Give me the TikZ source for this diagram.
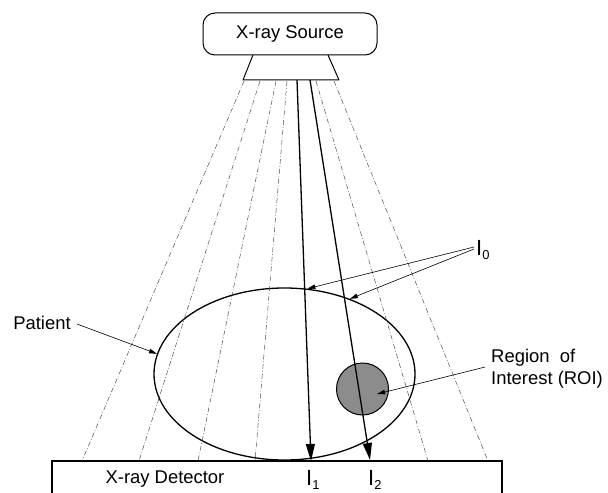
\documentclass[tikz,border=0pt]{standalone}
\usepackage{fontspec}
\setmainfont{Liberation Sans}
\usetikzlibrary{arrows.meta,shapes.geometric}
\tikzset{
  lbl/.style={font=\fontsize{18.5}{22}\selectfont, inner sep=0pt},
  ilbl/.style={font=\fontsize{22}{22}\selectfont, inner sep=0pt, anchor=base west},
  ray/.style={line width=0.45bp, black!75, dash pattern=on 5bp off 2bp on 0.8bp off 2bp},
  beam/.style={line width=1.3bp, -{Triangle[length=17bp,width=9bp]}},
  pointer/.style={line width=0.6bp, -{Triangle[length=8bp,width=4.5bp]}},
}
\newcommand{\sub}[1]{\raisebox{-0.4ex}{\fontsize{13}{13}\selectfont #1}}
\begin{document}
\begin{tikzpicture}[x=1bp,y=-1bp]
\useasboundingbox (0,0) rectangle (608,493);
% source
\node[lbl, draw, line width=1bp, rounded corners=12bp, minimum width=174bp, minimum height=42bp] (src) at (290,34) {X-ray Source};
\coordinate (tTL) at (253,55);
\coordinate (tTR) at (328,55);
\coordinate (tBL) at (243,80);
\coordinate (tBR) at (339,80);
\draw[line width=1bp, line join=round] (tTL) -- (tBL) -- (tBR) -- (tTR);
% detector
\coordinate (dBL) at (52,495);
\coordinate (dTL) at (52,461);
\coordinate (dTR) at (502,461);
\coordinate (dBR) at (502,495);
\draw[line width=1.2bp] (dBL) -- (dTL) -- (dTR) -- (dBR);
\node[lbl] (det) at (165,479) {X-ray Detector};
% ROI
\node[circle, draw, line width=1bp, fill=black!45, minimum size=52bp, inner sep=0pt] (roi) at (362.5,389) {};
% patient
\node[ellipse, draw, line width=1.3bp, minimum width=261bp, minimum height=172bp, inner sep=0pt] (patient) at (284.5,374) {};
% rays
\foreach \a/\b [count=\i] in {244/82, 260/139, 276/198, 287/255, 316/428, 334/488}{
  \coordinate (ro\i) at (\a,81);
  \coordinate (re\i) at (\b,461);
  \draw[ray] (ro\i) -- (re\i);
}
\coordinate (b1s) at (297,80);
\coordinate (b1e) at (311,461);
\coordinate (b2s) at (310,80);
\coordinate (b2e) at (370,460);
\draw[beam] (b1s) -- (b1e);
\draw[beam] (b2s) -- (b2e);
% labels
\node[ilbl] (I0) at (476,255) {I\sub{0}};
\node[ilbl] (I1) at (306,485) {I\sub{1}};
\node[ilbl] (I2) at (368,485) {I\sub{2}};
\node[lbl] (pat) at (42,323) {Patient};
\node[lbl, align=left, anchor=west] (reg) at (491,369) {Region\ \ of\\Interest (ROI)};
\coordinate (roitip) at (377,394);
% pointers
\coordinate (i0a) at (474,247);
\coordinate (i0b) at (474,249);
\draw[pointer] (i0a) -- (patient.75);
\draw[pointer] (i0b) -- (patient.49.5);
\draw[pointer] (pat.east) ++(6,1) coordinate (patx) (patx) -- (patient.171);
\draw[pointer] (reg.west) ++(-6,-2) coordinate (regx) (regx) -- (roitip);
\end{tikzpicture}
\end{document}
